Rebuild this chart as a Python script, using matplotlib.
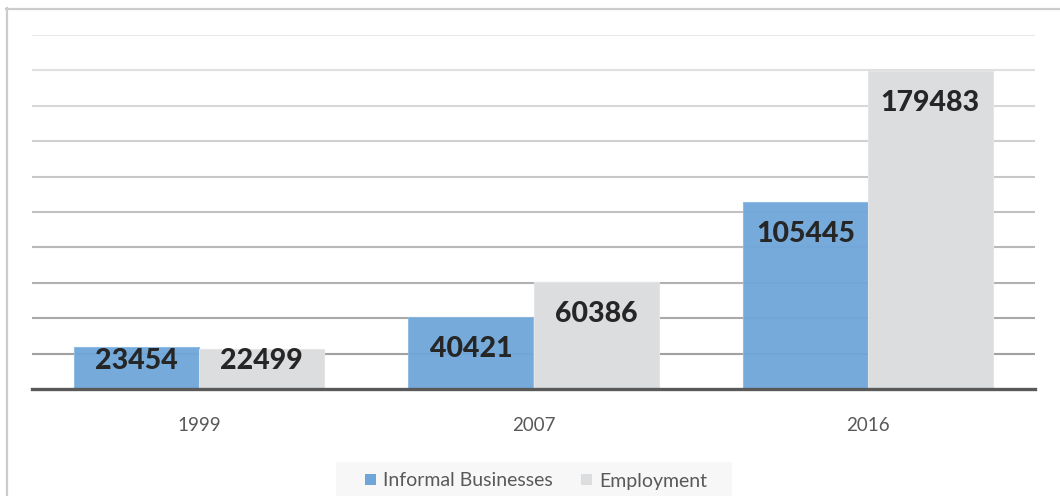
import numpy as np
import matplotlib.pyplot as plt
from matplotlib.patches import Patch, Rectangle
from matplotlib.lines import Line2D

years = ['1999', '2007', '2016']
informal = [23454, 40421, 105445]
employment = [22499, 60386, 179483]
series_names = ['Informal Businesses', 'Employment']

blue = '#6ea6d9'
grey = '#dcdddf'
text_col = '#595959'

plt.rcParams['font.family'] = ['Lato', 'DejaVu Sans']

W, H = 1060, 496
fig = plt.figure(figsize=(W / 100, H / 100), dpi=100)
ax = fig.add_axes([32 / W, 1 - 389 / H, 1003 / W, (389 - 35) / H])

# outer frame (only left and top edges are visible)
fig.add_artist(Line2D([7 / W, 7 / W], [0, 1 - 8 / H], color='#cccccc', lw=1.6,
                      transform=fig.transFigure))
fig.add_artist(Line2D([6 / W, 1], [1 - 9 / H, 1 - 9 / H], color='#cccccc', lw=1.6,
                      transform=fig.transFigure))

# gridlines get darker towards the bottom
ticks = np.arange(20000, 200001, 20000)
for t in ticks:
    frac = t / 200000
    c = 0.60 + 0.31 * frac
    ax.axhline(t, color=(c, c, c), lw=1.5, zorder=0)
ax.axhline(0, color='#595959', lw=2.4, zorder=4, clip_on=False)

x = np.arange(len(years))
w = 0.374
ax.bar(x - w / 2, informal, w, color=blue, alpha=0.95, edgecolor='#8dbbe4',
       lw=0.8, zorder=2, label=series_names[0])
ax.bar(x + w / 2, employment, w, color=grey, edgecolor='#e3e4e6',
       lw=0.8, zorder=2, label=series_names[1])

for xs, vals in [(x - w / 2, informal), (x + w / 2, employment)]:
    for xi, v in zip(xs, vals):
        ly = max(v - 18000, 15800)
        ax.text(xi, ly, str(v), ha='center', va='center', fontsize=20.5,
                fontweight='black', color='#262626', zorder=5)

ax.set_xlim(-0.5, 2.5)
ax.set_ylim(0, 200000)
ax.set_xticks(x)
ax.set_xticklabels(years, fontsize=13.5, color=text_col)
ax.tick_params(axis='x', length=0, pad=20)
ax.set_yticks([])
for s in ax.spines.values():
    s.set_visible(False)

# legend
fig.add_artist(Rectangle((336 / W, 0), (732 - 336) / W, (496 - 462) / H,
                         transform=fig.transFigure, facecolor='#f7f7f7',
                         edgecolor='none', zorder=0))
handles = [Patch(facecolor=blue, edgecolor='none'), Patch(facecolor=grey, edgecolor='none')]
fig.legend(handles, series_names, loc='center', bbox_to_anchor=(536 / W, 1 - 481 / H),
           ncol=2, frameon=False, fontsize=14, labelcolor=text_col,
           handlelength=0.55, handleheight=0.55, handletextpad=0.35,
           columnspacing=1.5)

fig.savefig('out.png', dpi=100)
